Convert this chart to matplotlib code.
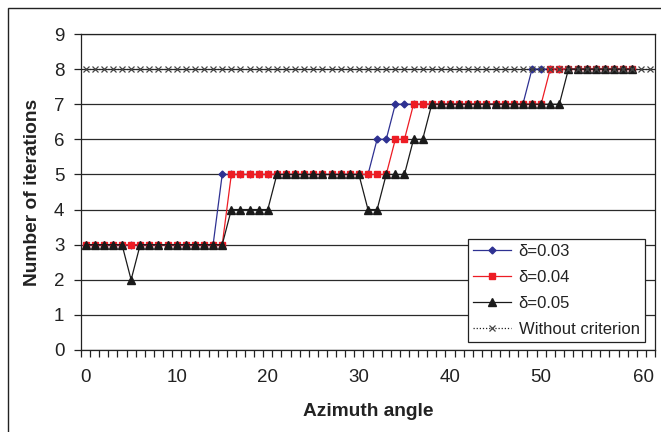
import numpy as np
import matplotlib
matplotlib.use("Agg")
import matplotlib.pyplot as plt
from matplotlib.patches import Rectangle
from matplotlib.transforms import ScaledTranslation

plt.rcParams['font.family'] = ['Liberation Sans', 'DejaVu Sans']

# Data
x_delta = np.arange(0, 61)
x_all = np.arange(0, 63)
d003 = [3]*15 + [5]*17 + [6]*2 + [7]*15 + [8]*12
d004 = [3]*16 + [5]*18 + [6]*2 + [7]*15 + [8]*10
d005 = [3]*5 + [2] + [3]*10 + [4]*5 + [5]*10 + [4]*2 + [5]*3 + [6]*2 + [7]*15 + [8]*8
no_crit = [8]*63
labels = ['δ=0.03', 'δ=0.04', 'δ=0.05', 'Without criterion']
xticks = [0, 10, 20, 30, 40, 50, 60]
yticks = list(range(0, 10))

W, H = 661, 432
fig = plt.figure(figsize=(W/100, H/100), dpi=100)
ax = fig.add_axes([81/W, 1-350/H, (655-81)/W, (350-34)/H])

ax.plot(x_delta, d003, color='#2e3192', lw=0.9, marker='D', ms=3.5, label=labels[0], zorder=3)
ax.plot(x_delta, d004, color='#ed1c24', lw=0.9, marker='s', ms=5, label=labels[1], zorder=4)
ax.plot(x_delta, d005, color='#1a1a1a', lw=0.9, marker='^', ms=5.5, label=labels[2], zorder=5)
ax.plot(x_all, no_crit, color='#222222', lw=0.9, ls=(0, (1, 1.5)), marker='x', ms=4.5,
        mew=0.9, mec='#444444', label=labels[3], zorder=6)

ax.set_xlim(-0.5, 62.5)
ax.set_ylim(0, 9)
ax.set_yticks(yticks)
ax.set_xticks(xticks)
ax.set_xticks(np.arange(-0.5, 63, 1), minor=True)
ax.tick_params(axis='x', which='major', length=0, pad=14, labelsize=13.5)
ax.tick_params(axis='x', which='minor', length=5, width=0.9, color='#222222')
ax.tick_params(axis='y', length=5, width=0.9, color='#222222', labelsize=13.5, pad=7)
for lab in ax.get_xticklabels():
    lab.set_color('#222222')
for lab in ax.get_yticklabels():
    lab.set_color('#222222')
last = ax.get_xticklabels()[-1]
last.set_transform(last.get_transform() + ScaledTranslation(0.11, 0, fig.dpi_scale_trans))

ax.grid(axis='y', color='#2a2a2a', lw=0.9)
ax.set_axisbelow(True)
for s in ax.spines.values():
    s.set_color('#222222')
    s.set_linewidth(0.9)

ax.set_xlabel('Azimuth angle', fontsize=13.8, fontweight='bold', color='#222222', labelpad=12)
ax.set_ylabel('Number of iterations', fontsize=13.8, fontweight='bold', color='#222222', labelpad=9)

leg = ax.legend(loc='lower right', bbox_to_anchor=(645/W, 1-342/H), bbox_transform=fig.transFigure,
                fancybox=False, framealpha=1, edgecolor='#222222', fontsize=12,
                handlelength=2.3, labelspacing=0.65, borderpad=0.32, handletextpad=0.45,
                borderaxespad=0)
leg.get_frame().set_linewidth(0.9)
for t in leg.get_texts():
    t.set_color('#222222')

fig.patches.append(Rectangle((8/W, -0.1), 1.2, 1-8/H+0.1, transform=fig.transFigure,
                             fill=False, edgecolor='#222222', lw=1.0))

fig.savefig('out.png', dpi=100)
